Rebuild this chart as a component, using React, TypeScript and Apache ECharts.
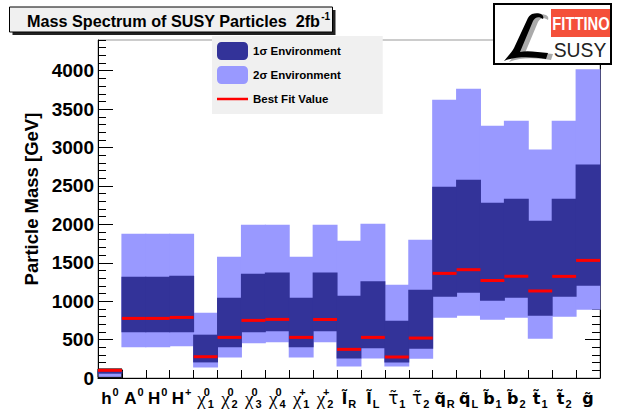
import React, { useEffect, useRef } from 'react';
import * as echarts from 'echarts';

// particle labels (rich text)
const xLabels = [
  '{m|h}{sup|0}', '{m|A}{sup|0}', '{m|H}{sup|0}', '{m|H}{sup|+}',
  '{g|χ}{gs|0}{sub|1}', '{g|χ}{gs|0}{sub|2}', '{g|χ}{gs|0}{sub|3}', '{g|χ}{gs|0}{sub|4}',
  '{g|χ}{gs|+}{sub|1}', '{g|χ}{gs|+}{sub|2}',
  '{t|l\u0303}{sub|R}', '{t|l\u0303}{sub|L}', '{u|τ\u0303}{sub|1}', '{u|τ\u0303}{sub|2}',
  '{t|q\u0303}{sub|R}', '{t|q\u0303}{sub|L}', '{t|b\u0303}{sub|1}', '{t|b\u0303}{sub|2}',
  '{t|t\u0303}{sub|1}', '{t|t\u0303}{sub|2}', '{t|g\u0303}',
];

// 2 sigma band (GeV)
const low2 = [8, 399, 399, 412, 138, 268, 451, 464, 268, 464, 151, 255, 151, 251, 785, 811, 759, 785, 512, 798, 889];
const high2 = [118, 1879, 1879, 1879, 850, 1579, 1996, 1996, 1579, 1996, 1788, 2009, 1215, 1801, 3622, 3767, 3285, 3350, 2973, 3350, 4020];
// 1 sigma band (GeV)
const low1 = [56, 594, 594, 594, 203, 399, 594, 607, 399, 607, 255, 386, 203, 381, 1059, 1111, 1006, 1046, 811, 1059, 1202];
const high1 = [92, 1319, 1319, 1332, 564, 1045, 1358, 1375, 1045, 1375, 1072, 1258, 746, 1150, 2491, 2582, 2282, 2334, 2048, 2334, 2778];
// best fit values (GeV)
const bestFit = [100, 776, 776, 789, 277, 529, 750, 763, 529, 763, 373, 529, 275, 520, 1362, 1410, 1269, 1323, 1133, 1323, 1531];

const yTickValues = [0, 500, 1000, 1500, 2000, 2500, 3000, 3500, 4000];

const DARK = '#333399';
const LIGHT = '#9999ff';
const RED = '#ff0000';

const L_PATH =
  'M30,2 C36,0 43,2 41,7 C37,4 33,5 31,9 L18,40 C25,38 36,40 46,41 L44,47 C30,45 14,44 2,49 C6,44 10,40 12,36 L25,8 C26,5 28,3 30,2 Z';
echarts.graphic.registerShape('scriptL', echarts.graphic.extendPath(L_PATH, {}) as any);

const bandRender = (outline: boolean) => (params: any, api: any) => {
  const i = api.value(0);
  const top = api.coord([i, api.value(2)]);
  const bot = api.coord([i, api.value(1)]);
  const w = api.size([1, 0])[0];
  const ol = outline && i === 0;
  return {
    type: 'rect',
    shape: { x: top[0] - w / 2 - (ol ? 0 : 0.5), y: top[1], width: w + (ol ? 0 : 1), height: bot[1] - top[1] },
    style: {
      fill: api.visual('color'),
      stroke: ol ? '#000' : null,
      lineWidth: 1,
    },
  };
};

const lineRender = (params: any, api: any) => {
  const i = api.value(0);
  const p = api.coord([i, api.value(1)]);
  const w = api.size([1, 0])[0];
  return {
    type: 'rect',
    shape: { x: p[0] - w / 2, y: p[1] - 1.5, width: w, height: 3 },
    style: { fill: api.visual('color') },
  };
};

const subSup = { fontFamily: 'Liberation Sans', fontWeight: 'bold', fontSize: 11, color: '#000' };

export default function App() {
  const ref = useRef<HTMLDivElement>(null);
  useEffect(() => {
    const chart = echarts.init(ref.current!, null, { renderer: 'svg' });
    const idx = xLabels.map((_, i) => i);
    const option: any = {
      animation: false,
      backgroundColor: '#fff',
      grid: {
        left: 98, right: 18, top: 40, bottom: 39,
        show: true, borderColor: '#999', borderWidth: 1,
        outerBoundsMode: 'none',
      },
      legend: {
        left: 212, top: 36, orient: 'vertical',
        backgroundColor: '#f0f0f0',
        padding: [6, 42, 6, 5],
        itemGap: 6, itemWidth: 31, itemHeight: 18,
        selectedMode: false,
        textStyle: { fontFamily: 'Liberation Sans', fontWeight: 'bold', fontSize: 11.5, color: '#000', lineHeight: 18 },
        data: [
          { name: '1σ Environment', icon: 'roundRect' },
          { name: '2σ Environment', icon: 'roundRect' },
          { name: 'Best Fit Value', icon: 'path://M0,0h31v2.5h-31z' },
        ],
      },
      xAxis: {
        type: 'category',
        data: xLabels,
        boundaryGap: true,
        axisLine: { lineStyle: { color: '#000', width: 1 } },
        axisTick: { show: true, inside: true, length: 8, interval: 0, lineStyle: { color: '#000' } },
        splitLine: { show: false },
        axisLabel: {
          interval: 0, margin: 8,
          rich: {
            m: { fontFamily: 'Liberation Sans', fontWeight: 'bold', fontSize: 17, color: '#000', lineHeight: 24 },
            t: { fontFamily: 'DejaVu Sans', fontWeight: 'bold', fontSize: 16, color: '#000', lineHeight: 24 },
            u: { fontFamily: 'DejaVu Sans', fontSize: 17, color: '#000', lineHeight: 24 },
            g: { fontFamily: 'Liberation Serif', fontSize: 19, color: '#000', lineHeight: 24 },
            sup: { ...subSup, padding: [0, 0, 12, 1] },
            gs: { ...subSup, width: 0, padding: [0, 0, 12, 1] },
            sub: { ...subSup, padding: [12, 0, 0, 1] },
          },
        },
      },
      yAxis: [
        {
          type: 'value', position: 'left', min: 0, max: 4400,
          axisLine: { show: true, lineStyle: { color: '#000' } },
          axisTick: { show: true, inside: true, length: 15, customValues: yTickValues, lineStyle: { color: '#000' } },
          axisLabel: {
            customValues: yTickValues, margin: 4,
            formatter: (v: number) => String(v),
            fontFamily: 'Liberation Sans', fontWeight: 'bold', fontSize: 19, color: '#000',
          },
          splitLine: { show: false },
          name: 'Particle Mass [GeV]',
          nameLocation: 'middle', nameGap: 57,
          nameTextStyle: { fontFamily: 'Liberation Sans', fontWeight: 'bold', fontSize: 18.5, color: '#000', padding: [0, 0, 0, 20] },
        },
        {
          type: 'value', position: 'left', min: 0, max: 4400, interval: 100,
          axisLine: { show: false },
          axisTick: { show: true, inside: true, length: 8, lineStyle: { color: '#000' } },
          axisLabel: { show: false }, splitLine: { show: false },
        },
        {
          type: 'value', position: 'right', min: 0, max: 4400,
          axisLine: { show: true, lineStyle: { color: '#000' } },
          axisTick: { show: true, inside: true, length: 15, customValues: yTickValues, lineStyle: { color: '#000' } },
          axisLabel: { show: false }, splitLine: { show: false },
        },
        {
          type: 'value', position: 'right', min: 0, max: 4400, interval: 100,
          axisLine: { show: false },
          axisTick: { show: true, inside: true, length: 8, lineStyle: { color: '#000' } },
          axisLabel: { show: false }, splitLine: { show: false },
        },
      ],
      series: [
        {
          name: '2σ Environment', type: 'custom', renderItem: bandRender(true),
          itemStyle: { color: LIGHT }, encode: { x: 0, y: [1, 2] },
          data: idx.map((i) => [i, low2[i], high2[i]]), z: 1,
        },
        {
          name: '1σ Environment', type: 'custom', renderItem: bandRender(false),
          itemStyle: { color: DARK }, encode: { x: 0, y: [1, 2] },
          data: idx.map((i) => [i, low1[i], high1[i]]), z: 2,
        },
        {
          name: 'Best Fit Value', type: 'custom', renderItem: lineRender,
          itemStyle: { color: RED }, encode: { x: 0, y: 1 },
          data: idx.map((i) => [i, bestFit[i]]), z: 3,
        },
      ],
      graphic: [
        // title box with shadow
        { type: 'rect', z: 100, shape: { x: 12.5, y: 10, width: 323, height: 25 }, style: { fill: '#222' } },
        { type: 'rect', z: 101, shape: { x: 9.5, y: 7, width: 323, height: 25 }, style: { fill: '#f0f0f0', stroke: '#000', lineWidth: 1 } },
        {
          type: 'text', z: 102, x: 27, y: 21,
          style: {
            text: '{t|Mass Spectrum of SUSY Particles  2fb}{s|-1}',
            verticalAlign: 'middle',
            rich: {
              t: { fontFamily: 'Liberation Sans', fontWeight: 'bold', fontSize: 16.2, fill: '#000' },
              s: { fontFamily: 'Liberation Sans', fontWeight: 'bold', fontSize: 10, fill: '#000', padding: [0, 0, 10, 1] },
            },
          },
        },
        // logo
        { type: 'rect', z: 100, shape: { x: 494, y: 4, width: 117, height: 60 }, style: { fill: '#fff', stroke: '#000', lineWidth: 2 } },
        { type: 'rect', z: 101, shape: { x: 551, y: 9, width: 59, height: 28 }, style: { fill: '#f4503a' } },
        {
          type: 'text', z: 102, x: 581, y: 23, scaleX: 0.82,
          style: { text: 'FITTINO', fill: '#fff', fontFamily: 'Liberation Sans', fontWeight: 'bold', fontSize: 18, align: 'center', verticalAlign: 'middle' },
        },
        {
          type: 'text', z: 102, x: 580, y: 50, scaleX: 0.92,
          style: { text: 'SUSY', fill: '#222', fontFamily: 'Liberation Sans', fontSize: 21, align: 'center', verticalAlign: 'middle' },
        },
        { type: 'scriptL', z: 101, x: 507, y: 13, style: { fill: '#aaa' } },
        { type: 'scriptL', z: 102, x: 502, y: 12, style: { fill: '#000' } },
      ],
    };
    chart.setOption(option);
    return () => chart.dispose();
  }, []);
  return <div ref={ref} style={{ position: 'fixed', left: 0, top: 0, width: 618, height: 417 }} />;
}
